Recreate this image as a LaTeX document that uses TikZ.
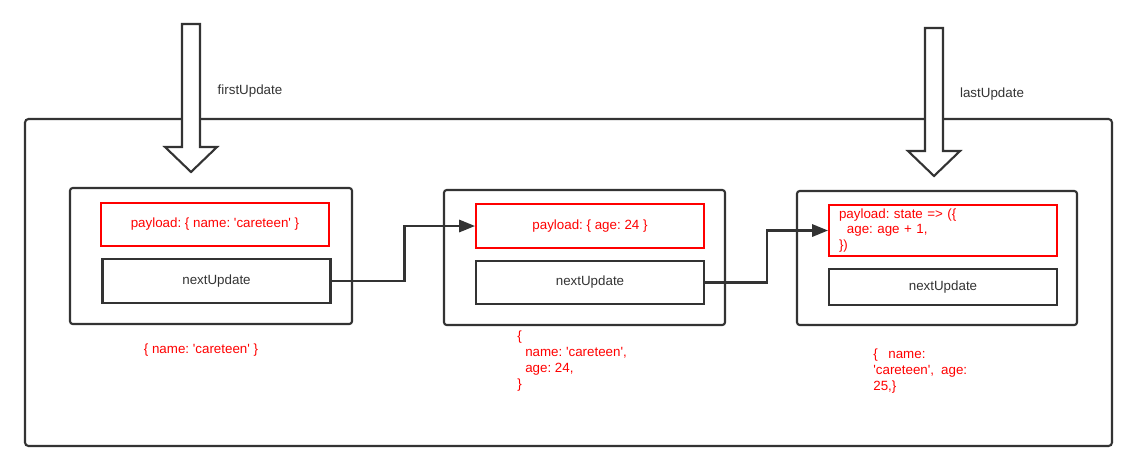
\documentclass[tikz,border=0pt]{standalone}
\usepackage{fontspec}
\newfontfamily\codefont{Liberation Sans}
\usetikzlibrary{positioning,arrows.meta}
\definecolor{linegray}{HTML}{333333}
\definecolor{codered}{HTML}{FF0000}

\begin{document}
\frenchspacing
\begin{tikzpicture}[x=0.02cm, y=-0.02cm,
        every node/.style={font=\codefont\fontsize{7.6}{9}\selectfont, text=linegray},
        fiber/.style={draw=linegray, line width=1.2pt, rounded corners=1.5pt, inner sep=0pt},
        payloadbox/.style={draw=codered, line width=1.2pt, inner sep=0pt, text=codered,
            minimum width=4.56cm},
        nextbox/.style={draw=linegray, line width=1.2pt, inner sep=0pt, minimum width=4.56cm},
        statetext/.style={text=codered, align=left, inner sep=0pt},
        link/.style={draw=linegray, line width=1.2pt, -{Triangle[length=9pt, width=7pt]}},
        pointer/.style={draw=linegray, line width=1.2pt, fill=white, line join=miter}]
        \useasboundingbox (0,0) rectangle (1138,471);
        \draw[fiber, rounded corners=2pt] (25,119) rectangle (1112,446);
        % hollow arrows
        \draw[pointer] (182,24) -- (200,24) -- (200,147) -- (217,147) -- (191,172)
            -- (165,147) -- (182,147) -- cycle;
        \node (first) at (250,91) {firstUpdate};
        \draw[pointer] (925,28) -- (943,28) -- (943,151) -- (960,151) -- (934,176)
            -- (908,151) -- (925,151) -- cycle;
        \node (last) at (992,94) {lastUpdate};
        % update 1
        \node[fiber, minimum width=5.64cm, minimum height=2.72cm] (update1) at (211,256) {};
        \node[payloadbox, minimum height=0.86cm] (payload1) at (215,224.5) {payload: \{ name: 'careteen' \}};
        \node[nextbox, minimum height=0.88cm] (next1) at (216.5,281) {nextUpdate};
        \node[statetext] (state1) at (201,350) {\{ name: 'careteen' \}};
        % update 2
        \node[fiber, minimum width=5.62cm, minimum height=2.70cm] (update2) at (584.5,257.5) {};
        \node[payloadbox, minimum height=0.88cm] (payload2) at (590,226) {payload: \{ age: 24 \}};
        \node[nextbox, minimum height=0.86cm] (next2) at (590,282.5) {nextUpdate};
        \node[statetext, anchor=west] (state2) at (517,361) {\{\\\hspace*{4.5pt}name: 'careteen',\\\hspace*{4.5pt}age: 24,\\\}};
        % update 3
        \node[fiber, minimum width=5.60cm, minimum height=2.68cm] (update3) at (937,258) {};
        \node[payloadbox, minimum width=0pt, text width=4.16cm, inner xsep=0.2cm, align=left,
            minimum height=1.02cm] (payload3) at (943,230.5)
            {payload: state => (\{\\\hspace*{4.5pt}age: age + 1,\\\})};
        \node[nextbox, minimum height=0.72cm] (next3) at (943,287) {nextUpdate};
        \node[statetext, anchor=west] (state3) at (873,371) {\{\hspace*{6pt}name:\\'careteen',\hspace*{4pt}age:\\25,\}};
        % links
        \draw[link] (next1.east) -- ++(73,0) |- (payload2.west);
        \draw[link] (next2.east) -- ++(62,0) |- (payload3.west);
    \end{tikzpicture}
\end{document}
